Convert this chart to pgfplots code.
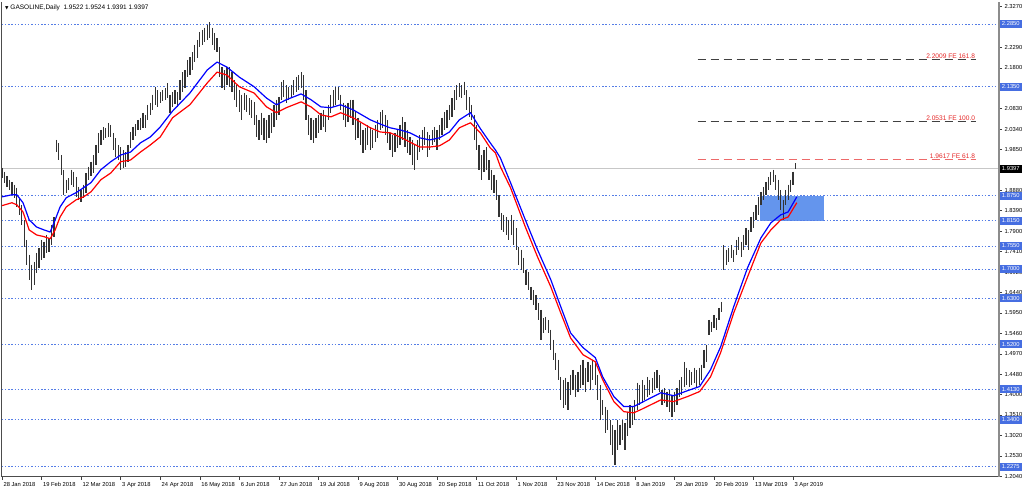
\documentclass[border=0pt]{standalone}
\usepackage{pgfplots}
\pgfplotsset{compat=1.18}
\usepackage{pgfplotstable}
\usepackage{fontspec}
\setmainfont{Liberation Sans}
\newfontfamily\dejavu{DejaVu Sans}
\definecolor{lvl}{RGB}{85,125,230}
\definecolor{lvlbox}{RGB}{70,110,225}
\definecolor{rectblue}{RGB}{100,149,237}
\definecolor{fibred}{RGB}{230,40,40}
\newcommand{\tf}{\fontsize{5.8}{6.5}\selectfont}

\pgfplotstableread{
i h l
0 1.941 1.917
1 1.932 1.906
2 1.922 1.896
3 1.913 1.889
4 1.908 1.877
5 1.901 1.870
6 1.894 1.848
7 1.870 1.829
8 1.853 1.805
9 1.817 1.753
10 1.769 1.710
11 1.734 1.674
12 1.710 1.650
13 1.717 1.662
14 1.738 1.691
15 1.750 1.703
16 1.769 1.722
17 1.765 1.726
18 1.781 1.738
19 1.774 1.741
20 1.805 1.757
21 1.824 1.777
22 2.008 1.980
23 2.001 1.960
24 1.972 1.925
25 1.937 1.877
26 1.913 1.882
27 1.917 1.889
28 1.937 1.901
29 1.932 1.896
30 1.920 1.872
31 1.896 1.865
32 1.889 1.860
33 1.901 1.870
34 1.929 1.882
35 1.944 1.913
36 1.956 1.922
37 1.972 1.930
38 1.996 1.948
39 2.025 1.977
40 2.032 1.996
41 2.039 2.008
42 2.037 2.013
43 2.049 2.015
44 2.044 2.015
45 2.025 1.984
46 2.013 1.968
47 1.996 1.960
48 1.991 1.937
49 1.984 1.941
50 1.979 1.944
51 1.996 1.956
52 2.027 1.989
53 2.039 2.008
54 2.046 2.018
55 2.056 2.032
56 2.061 2.032
57 2.073 2.037
58 2.068 2.037
59 2.092 2.056
60 2.097 2.068
61 2.116 2.080
62 2.135 2.092
63 2.127 2.087
64 2.123 2.097
65 2.127 2.101
66 2.132 2.104
67 2.144 2.108
68 2.116 2.073
69 2.123 2.087
70 2.127 2.094
71 2.123 2.087
72 2.151 2.104
73 2.170 2.123
74 2.175 2.132
75 2.199 2.159
76 2.206 2.163
77 2.218 2.175
78 2.235 2.194
79 2.247 2.204
80 2.266 2.230
81 2.271 2.235
82 2.276 2.242
83 2.283 2.247
84 2.290 2.252
85 2.276 2.235
86 2.264 2.223
87 2.252 2.218
88 2.230 2.159
89 2.182 2.132
90 2.175 2.127
91 2.182 2.139
92 2.182 2.135
93 2.170 2.123
94 2.151 2.104
95 2.139 2.087
96 2.127 2.075
97 2.116 2.056
98 2.120 2.080
99 2.116 2.075
100 2.108 2.068
101 2.104 2.061
102 2.099 2.044
103 2.068 2.015
104 2.056 2.008
105 2.073 2.020
106 2.061 2.008
107 2.056 2.001
108 2.068 2.013
109 2.073 2.025
110 2.092 2.039
111 2.104 2.056
112 2.111 2.068
113 2.147 2.104
114 2.151 2.111
115 2.139 2.097
116 2.135 2.104
117 2.139 2.111
118 2.151 2.116
119 2.159 2.123
120 2.163 2.127
121 2.170 2.132
122 2.163 2.104
123 2.127 2.056
124 2.068 2.020
125 2.061 2.008
126 2.056 2.001
127 2.061 2.013
128 2.068 2.025
129 2.073 2.032
130 2.080 2.039
131 2.068 2.027
132 2.092 2.056
133 2.116 2.073
134 2.127 2.087
135 2.135 2.092
136 2.135 2.104
137 2.116 2.080
138 2.097 2.056
139 2.092 2.039
140 2.097 2.051
141 2.104 2.061
142 2.104 2.044
143 2.075 2.008
144 2.061 2.013
145 2.049 1.996
146 2.032 1.977
147 2.037 1.984
148 2.044 1.996
149 2.039 1.984
150 2.032 1.989
151 2.044 2.003
152 2.056 2.013
153 2.075 2.032
154 2.080 2.037
155 2.068 2.020
156 2.056 2.001
157 2.025 1.984
158 2.020 1.968
159 2.025 1.979
160 2.032 1.989
161 2.044 1.996
162 2.063 2.008
163 2.051 1.991
164 2.032 1.977
165 2.015 1.972
166 2.008 1.948
167 1.996 1.937
168 2.008 1.960
169 2.020 1.979
170 2.032 1.984
171 2.039 1.996
172 2.027 1.968
173 2.020 1.984
174 2.032 1.996
175 2.039 2.003
176 2.032 1.984
177 2.044 2.008
178 2.061 2.020
179 2.075 2.032
180 2.080 2.037
181 2.092 2.056
182 2.108 2.063
183 2.127 2.080
184 2.139 2.104
185 2.144 2.111
186 2.139 2.108
187 2.147 2.116
188 2.127 2.080
189 2.111 2.063
190 2.092 2.056
191 2.068 2.008
192 2.044 1.984
193 1.996 1.937
194 1.972 1.913
195 1.984 1.932
196 1.991 1.937
197 1.960 1.913
198 1.937 1.889
199 1.925 1.882
200 1.913 1.865
201 1.877 1.824
202 1.834 1.793
203 1.829 1.789
204 1.824 1.781
205 1.817 1.769
206 1.829 1.781
207 1.817 1.757
208 1.798 1.746
209 1.753 1.710
210 1.746 1.698
211 1.727 1.691
212 1.698 1.662
213 1.693 1.650
214 1.657 1.626
215 1.650 1.614
216 1.638 1.602
217 1.619 1.578
218 1.602 1.531
219 1.583 1.548
220 1.586 1.555
221 1.578 1.548
222 1.555 1.507
223 1.531 1.483
224 1.500 1.459
225 1.483 1.435
226 1.442 1.387
227 1.435 1.368
228 1.440 1.376
229 1.430 1.364
230 1.447 1.399
231 1.459 1.411
232 1.447 1.395
233 1.454 1.407
234 1.471 1.416
235 1.483 1.423
236 1.464 1.407
237 1.478 1.430
238 1.471 1.411
239 1.483 1.435
240 1.478 1.423
241 1.447 1.387
242 1.423 1.340
243 1.387 1.352
244 1.371 1.309
245 1.364 1.316
246 1.340 1.280
247 1.328 1.256
248 1.316 1.232
249 1.340 1.268
250 1.328 1.280
251 1.340 1.292
252 1.333 1.268
253 1.357 1.300
254 1.376 1.321
255 1.369 1.328
256 1.387 1.340
257 1.428 1.364
258 1.423 1.376
259 1.435 1.380
260 1.423 1.387
261 1.442 1.395
262 1.435 1.399
263 1.440 1.404
264 1.454 1.411
265 1.459 1.416
266 1.447 1.407
267 1.411 1.376
268 1.416 1.380
269 1.407 1.371
270 1.411 1.359
271 1.399 1.347
272 1.407 1.359
273 1.416 1.376
274 1.435 1.395
275 1.442 1.399
276 1.478 1.419
277 1.464 1.423
278 1.459 1.419
279 1.454 1.423
280 1.464 1.428
281 1.459 1.419
282 1.464 1.423
283 1.471 1.435
284 1.507 1.464
285 1.519 1.478
286 1.578 1.543
287 1.574 1.550
288 1.590 1.559
289 1.583 1.555
290 1.607 1.578
291 1.621 1.598
292 1.757 1.698
293 1.746 1.710
294 1.750 1.717
295 1.757 1.727
296 1.746 1.717
297 1.769 1.734
298 1.777 1.746
299 1.765 1.729
300 1.781 1.746
301 1.798 1.757
302 1.793 1.746
303 1.824 1.789
304 1.836 1.798
305 1.853 1.817
306 1.872 1.829
307 1.884 1.853
308 1.896 1.865
309 1.908 1.877
310 1.920 1.889
311 1.932 1.901
312 1.937 1.908
313 1.925 1.889
314 1.913 1.865
315 1.889 1.841
316 1.865 1.817
317 1.889 1.853
318 1.901 1.865
319 1.913 1.884
320 1.932 1.901
321 1.9524 1.9391
}\bars

\pgfplotstableread{
i v
0 1.872
4 1.877
6 1.877
8.5 1.858
11 1.817
14 1.800
17 1.793
19.5 1.788
21.5 1.817
23.5 1.848
26 1.870
30 1.882
33 1.894
36 1.906
40 1.937
44 1.956
48 1.972
52 1.979
56 2.001
60 2.015
64 2.039
69 2.077
76 2.120
83 2.175
87 2.194
91 2.182
96 2.158
102 2.135
107 2.108
111 2.092
115 2.104
121 2.118
125 2.104
129 2.087
133 2.085
137 2.092
142 2.080
149 2.056
153 2.046
157 2.037
161 2.032
165 2.025
169 2.013
173 2.008
177 2.013
181 2.027
185 2.056
189.5 2.073
193.5 2.035
197.5 2.001
199.6 1.984
201.6 1.965
205.7 1.906
211.7 1.817
216.6 1.746
222 1.674
226 1.610
230 1.547
235 1.512
240 1.488
243 1.442
247.5 1.395
251.5 1.371
255.5 1.371
258.5 1.380
266.5 1.404
271.7 1.397
277.3 1.409
282.2 1.419
286.6 1.459
290.7 1.514
296 1.610
301.6 1.703
307 1.774
311 1.810
315 1.829
318 1.836
321.5 1.872
}\mablue

\pgfplotstableread{
i v
0 1.851
4 1.858
6 1.853
8.5 1.836
11 1.793
14 1.781
17 1.777
19.5 1.772
21.5 1.793
23.5 1.824
26 1.848
30 1.865
33 1.872
36 1.884
40 1.913
44 1.929
48 1.956
52 1.960
56 1.979
60 1.996
64 2.015
69 2.061
76 2.092
83 2.144
87 2.170
91 2.163
96 2.135
102 2.120
107 2.087
111 2.073
115 2.085
121 2.099
125 2.087
129 2.068
133 2.063
137 2.073
142 2.061
149 2.037
153 2.027
157 2.025
161 2.015
165 2.003
169 1.991
173 1.991
177 1.994
181 2.008
185 2.037
189.5 2.049
193.5 2.025
197.5 1.989
199.6 1.977
201.6 1.944
205.7 1.894
211.7 1.800
216.6 1.729
222 1.657
226 1.595
230 1.535
235 1.495
240 1.478
243 1.435
247.5 1.383
251.5 1.359
255.5 1.356
258.5 1.364
266.5 1.387
271.7 1.383
277.3 1.395
282.2 1.407
286.6 1.442
290.7 1.500
296 1.595
301.6 1.681
307 1.762
311 1.793
315 1.817
318 1.824
321.5 1.858
}\mared

\pgfplotsset{
  lvlline/.style={lvl, line width=0.55pt, dash pattern=on 1.5pt off 1.8pt},
  fibline/.style={line width=0.6pt, dash pattern=on 8pt off 5pt},
}
\tikzset{
  lvlbox/.style={fill=lvlbox, text=white, font=\tf, anchor=west, inner xsep=0pt, inner ysep=0pt, minimum height=8pt, minimum width=22pt, xshift=0.6pt},
  fiblabel/.style={font=\fontsize{6.6}{7}\selectfont, text=fibred, anchor=south east, inner sep=0.5pt},
}

\begin{document}
\begin{tikzpicture}[x=1pt,y=1pt]
\fill[white] (0,0) rectangle (1024,491);
\useasboundingbox (0,0) rectangle (1024,491);
\begin{axis}[
  at={(1.5pt,14.5pt)}, anchor=south west,
  scale only axis, width=997.5pt, height=474.5pt,
  xmin=-0.2, xmax=403.3, ymin=1.204, ymax=2.3375,
  clip=false,
  axis line style={draw=none},
  xtick={0,16,...,320},
  xticklabels={28 Jan 2018,19 Feb 2018,12 Mar 2018,3 Apr 2018,24 Apr 2018,16 May 2018,6 Jun 2018,27 Jun 2018,19 Jul 2018,9 Aug 2018,30 Aug 2018,20 Sep 2018,11 Oct 2018,1 Nov 2018,23 Nov 2018,14 Dec 2018,8 Jan 2019,29 Jan 2019,20 Feb 2019,13 Mar 2019,3 Apr 2019},
  ytick={2.3270,2.2290,2.1800,2.0830,2.0340,1.9850,1.8880,1.8390,1.7900,1.7410,1.6920,1.6440,1.5950,1.5460,1.4970,1.4480,1.4000,1.3510,1.3020,1.2530,1.2040},
  yticklabels={2.3270,2.2290,2.1800,2.0830,2.0340,1.9850,1.8880,1.8390,1.7900,1.7410,1.6920,1.6440,1.5950,1.5460,1.4970,1.4480,1.4000,1.3510,1.3020,1.2530,1.2040},
  xtick pos=bottom, ytick pos=right, yticklabel pos=right,
  tick align=outside, major tick length=3pt,
  tick style={black!75, line width=0.5pt},
  xticklabel style={font=\tf, anchor=north west, xshift=-2pt, yshift=1pt},
  yticklabel style={font=\tf, anchor=west, xshift=-1pt},
]
% rectangle zone
\addplot[fill=rectblue, draw=none] coordinates {(306.5,1.815) (332.4,1.815) (332.4,1.875) (306.5,1.875)};
% current price line
\addplot[black!22, line width=0.8pt] coordinates {(-0.2,1.9397) (403.3,1.9397)};
% support/resistance levels
\addplot[lvlline] coordinates {(-0.2,2.2850) (403.3,2.2850)};
\addplot[lvlline] coordinates {(-0.2,2.1350) (403.3,2.1350)};
\addplot[lvlline] coordinates {(-0.2,1.8750) (403.3,1.8750)};
\addplot[lvlline] coordinates {(-0.2,1.8150) (403.3,1.8150)};
\addplot[lvlline] coordinates {(-0.2,1.7550) (403.3,1.7550)};
\addplot[lvlline] coordinates {(-0.2,1.7000) (403.3,1.7000)};
\addplot[lvlline] coordinates {(-0.2,1.6300) (403.3,1.6300)};
\addplot[lvlline] coordinates {(-0.2,1.5200) (403.3,1.5200)};
\addplot[lvlline] coordinates {(-0.2,1.4130) (403.3,1.4130)};
\addplot[lvlline] coordinates {(-0.2,1.3400) (403.3,1.3400)};
\addplot[lvlline] coordinates {(-0.2,1.2275) (403.3,1.2275)};
% fibonacci expansion levels
\addplot[fibline, black!75] coordinates {(281.4,2.2009) (393.9,2.2009)};
\addplot[fibline, black!75] coordinates {(281.4,2.0531) (393.9,2.0531)};
\addplot[fibline, fibred!70] coordinates {(281.4,1.9617) (393.9,1.9617)};
% price bars (high-low)
\addplot[draw=none, mark=none, error bars/.cd, y dir=minus, y explicit, error mark=none,
  error bar style={draw=black!80, line width=1.25pt}]
  table[x=i, y=h, y error minus expr=\thisrow{h}-\thisrow{l}] {\bars};
% moving averages
\addplot[red, line width=1.2pt, line join=round] table[x=i, y=v] {\mared};
\addplot[blue, line width=1.2pt, line join=round] table[x=i, y=v] {\mablue};
% frame
\draw[black!70, line width=0.7pt] (rel axis cs:0,1) -- (rel axis cs:0,0) -- (rel axis cs:1,0);
\draw[black!45, line width=1.3pt] (rel axis cs:1,0) -- (rel axis cs:1,1);
% fib labels
\node[fiblabel] at (axis cs:393.9,2.2009) {2.2009 FE 161.8};
\node[fiblabel] at (axis cs:393.9,2.0531) {2.0531 FE 100.0};
\node[fiblabel] at (axis cs:393.9,1.9617) {1.9617 FE 61.8};
% level boxes
\node[lvlbox] at (axis cs:403.3,2.2850) {2.2850};
\node[lvlbox] at (axis cs:403.3,2.1350) {2.1350};
\node[lvlbox] at (axis cs:403.3,1.8750) {1.8750};
\node[lvlbox] at (axis cs:403.3,1.8150) {1.8150};
\node[lvlbox] at (axis cs:403.3,1.7550) {1.7550};
\node[lvlbox] at (axis cs:403.3,1.7000) {1.7000};
\node[lvlbox] at (axis cs:403.3,1.6300) {1.6300};
\node[lvlbox] at (axis cs:403.3,1.5200) {1.5200};
\node[lvlbox] at (axis cs:403.3,1.4130) {1.4130};
\node[lvlbox] at (axis cs:403.3,1.3400) {1.3400};
\node[lvlbox] at (axis cs:403.3,1.2275) {1.2275};
\node[lvlbox, fill=black] at (axis cs:403.3,1.9397) {1.9397};
\end{axis}
\node[anchor=west, font=\fontsize{6.5}{7}\selectfont, inner sep=0pt] at (5,483) {{\dejavu\fontsize{4.5}{4.5}\selectfont ▼}\ GASOLINE,Daily\ \ 1.9522 1.9524 1.9391 1.9397};
\end{tikzpicture}
\end{document}
